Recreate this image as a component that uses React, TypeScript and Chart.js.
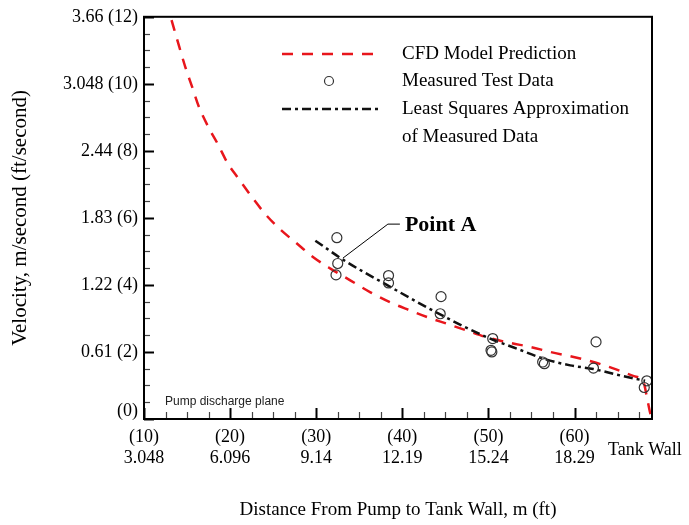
import React, { useEffect, useRef } from "react";
import { Chart, registerables } from "chart.js";

Chart.register(...registerables);

// ---- data (feet) ----
const cfdDistanceFt = [13.2, 14.1, 14.8, 15.6, 16.4, 17.5, 18.6, 19.7, 20.9, 22.6, 24.1, 25.8, 27.6, 29.7, 31.7, 34.0, 36.3, 38.6, 40.9, 42.9, 45.2, 47.5, 49.8, 52.5, 54.9, 57.2, 59.9, 62.2, 64.5, 66.9, 68.0, 68.4, 68.8, 69.0];
const cfdVelocityFt = [11.9, 11.1, 10.5, 9.9, 9.3, 8.7, 8.19, 7.64, 7.2, 6.6, 6.11, 5.66, 5.27, 4.82, 4.48, 4.13, 3.78, 3.48, 3.24, 3.04, 2.84, 2.64, 2.44, 2.27, 2.15, 2.0, 1.85, 1.7, 1.51, 1.28, 1.11, 0.66, 0.17, 0];

const measuredDistanceFt = [32.4, 32.5, 32.3, 38.4, 38.4, 44.5, 44.4, 50.5, 50.3, 50.4, 56.3, 56.5, 62.5, 62.2, 68.4, 68.1];
const measuredVelocityFt = [5.41, 4.64, 4.3, 4.28, 4.06, 3.65, 3.14, 2.4, 2.05, 2.0, 1.7, 1.65, 2.3, 1.52, 1.14, 0.94];

const lsqDistanceFt = [29.9, 33.2, 38.2, 44.4, 50.0, 53.3, 56.4, 59.5, 62.2, 65.3, 68.2];
const lsqVelocityFt = [5.32, 4.74, 4.0, 3.12, 2.42, 2.1, 1.8, 1.6, 1.49, 1.3, 1.14];

const xTickValues = [10, 20, 30, 40, 50, 60];
const xTickFeet = ["(10)", "(20)", "(30)", "(40)", "(50)", "(60)"];
const xTickMeters = ["3.048", "6.096", "9.14", "12.19", "15.24", "18.29"];
const yTickValues = [0, 2, 4, 6, 8, 10, 12];
const yTickLabels = ["(0)", "0.61 (2)", "1.22 (4)", "1.83 (6)", "2.44 (8)", "3.048 (10)", "3.66 (12)"];

const xMin = 10;
const xMax = 69;
const yMin = 0;
const yMax = 12;
const pointA = { x: 33.1, y: 4.8 };

const legendLabels = ["CFD Model Prediction", "Measured Test Data", "Least Squares Approximation", "of Measured Data"];
const xTitle = "Distance From Pump to Tank Wall, m (ft)";
const yTitle = "Velocity, m/second (ft/second)";

const SERIF = "'Liberation Serif', 'Times New Roman', serif";
const RED = "rgb(232,22,28)";

const toXY = (xs: number[], ys: number[]) => xs.map((x, i) => ({ x, y: ys[i] }));

const decorPlugin = {
  id: "decor",
  afterDatasetsDraw(chart: any) {
    const { ctx, chartArea, scales } = chart;
    const { left, right, top, bottom } = chartArea;
    const xs = scales.x;
    const ys = scales.y;
    ctx.save();
    // y ticks (inward)
    for (let v = yMin; v <= yMax + 1e-9; v += 0.5) {
      const major = Math.abs(v % 2) < 1e-9;
      const py = Math.round(ys.getPixelForValue(v)) + 0.5;
      ctx.beginPath();
      ctx.strokeStyle = major ? "#000" : "#444";
      ctx.lineWidth = major ? 2 : 1.2;
      ctx.moveTo(left, py);
      ctx.lineTo(left + (major ? 10 : 6), py);
      ctx.stroke();
    }
    // x ticks (inward)
    for (let v = xMin; v <= xMax + 1e-9; v += 2.5) {
      const major = Math.abs(v % 10) < 1e-9;
      const px = Math.round(xs.getPixelForValue(v)) + 0.5;
      ctx.beginPath();
      ctx.strokeStyle = major ? "#000" : "#444";
      ctx.lineWidth = major ? 2 : 1.2;
      ctx.moveTo(px, bottom);
      ctx.lineTo(px, bottom - (major ? 11 : 7));
      ctx.stroke();
    }
    // frame
    ctx.strokeStyle = "#000";
    ctx.lineWidth = 2;
    ctx.strokeRect(left, top, right - left, bottom - top);

    // "(0)" label sits a little above the axis in the reference
    ctx.fillStyle = "#000";
    ctx.font = "18px " + SERIF;
    ctx.textAlign = "right";
    ctx.textBaseline = "middle";
    ctx.fillText(yTickLabels[0], left - 6, ys.getPixelForValue(yTickValues[0]) - 8);

    // Pump discharge plane
    ctx.textAlign = "left";
    ctx.fillStyle = "#222";
    ctx.font = "12px 'Liberation Sans', Arial, sans-serif";
    ctx.fillText("Pump discharge plane", left + 21, bottom - 17);

    // Tank Wall
    ctx.fillStyle = "#000";
    ctx.font = "18px " + SERIF;
    ctx.fillText("Tank Wall", right - 44, bottom + 31);

    // Point A annotation
    const ax = xs.getPixelForValue(pointA.x);
    const ay = ys.getPixelForValue(pointA.y);
    ctx.beginPath();
    ctx.strokeStyle = "#000";
    ctx.lineWidth = 1;
    ctx.moveTo(ax, ay);
    ctx.lineTo(ax + 45, ay - 34);
    ctx.lineTo(ax + 57, ay - 34);
    ctx.stroke();
    ctx.font = "bold 22px " + SERIF;
    ctx.fillText("Point A", ax + 62, ay - 33);

    // legend
    const lx0 = 282;
    const lx1 = 380;
    const tx = 402;
    ctx.lineWidth = 2.5;
    ctx.strokeStyle = RED;
    ctx.setLineDash([11, 9]);
    ctx.beginPath();
    ctx.moveTo(lx0, 54);
    ctx.lineTo(lx1, 54);
    ctx.stroke();
    ctx.setLineDash([9, 4, 3, 4]);
    ctx.strokeStyle = "#111";
    ctx.beginPath();
    ctx.moveTo(lx0, 109);
    ctx.lineTo(lx1, 109);
    ctx.stroke();
    ctx.setLineDash([]);
    ctx.lineWidth = 1.2;
    ctx.strokeStyle = "#333";
    ctx.beginPath();
    ctx.arc(329, 81, 4.5, 0, Math.PI * 2);
    ctx.stroke();
    ctx.fillStyle = "#000";
    ctx.font = "19px " + SERIF;
    ctx.fillText(legendLabels[0], tx, 54);
    ctx.fillText(legendLabels[1], tx, 81);
    ctx.fillText(legendLabels[2], tx, 109);
    ctx.fillText(legendLabels[3], tx, 137);
    ctx.restore();
  },
};

export default function App() {
  const ref = useRef<HTMLCanvasElement>(null);
  useEffect(() => {
    const chart = new Chart(ref.current as HTMLCanvasElement, {
      type: "line",
      data: {
        datasets: [
          {
            type: "scatter",
            label: "Measured Test Data",
            data: toXY(measuredDistanceFt, measuredVelocityFt),
            showLine: false,
            pointStyle: "circle",
            pointRadius: 5,
            pointBorderWidth: 1.2,
            pointBorderColor: "#333",
            pointBackgroundColor: "rgba(0,0,0,0)",
            order: 0,
          },
          {
            type: "line",
            label: "Least Squares Approximation of Measured Data",
            data: toXY(lsqDistanceFt, lsqVelocityFt),
            borderColor: "#111",
            borderWidth: 2.5,
            borderDash: [9, 4, 3, 4],
            pointRadius: 0,
            cubicInterpolationMode: "monotone",
            fill: false,
            order: 1,
          },
          {
            type: "line",
            label: "CFD Model Prediction",
            data: toXY(cfdDistanceFt, cfdVelocityFt),
            borderColor: RED,
            borderWidth: 2.5,
            borderDash: [11, 9],
            pointRadius: 0,
            cubicInterpolationMode: "monotone",
            fill: false,
            order: 2,
          },
        ],
      },
      options: {
        responsive: false,
        animation: false,
        devicePixelRatio: 1,
        layout: { padding: { top: 15, right: 37, left: 0, bottom: 0 } },
        plugins: { legend: { display: false }, tooltip: { enabled: false } },
        scales: {
          x: {
            type: "linear",
            min: xMin,
            max: xMax,
            grid: { display: false, drawTicks: false },
            border: { display: false },
            afterBuildTicks: (s: any) => {
              s.ticks = xTickValues.map((v) => ({ value: v }));
            },
            afterFit: (s: any) => {
              s.height = 106;
            },
            ticks: {
              autoSkip: false,
              maxRotation: 0,
              padding: 8,
              color: "#000",
              font: { family: SERIF, size: 18, lineHeight: 1.17 },
              callback: (v: any) => {
                const i = xTickValues.indexOf(Number(v));
                return i >= 0 ? [xTickFeet[i], xTickMeters[i]] : "";
              },
            },
            title: {
              display: true,
              text: xTitle,
              color: "#000",
              font: { family: SERIF, size: 19 },
              padding: { top: 0, bottom: 4 },
            },
          },
          y: {
            type: "linear",
            min: yMin,
            max: yMax,
            grid: { display: false, drawTicks: false },
            border: { display: false },
            afterBuildTicks: (s: any) => {
              s.ticks = yTickValues.map((v) => ({ value: v }));
            },
            afterFit: (s: any) => {
              s.width = 144;
            },
            ticks: {
              autoSkip: false,
              padding: 6,
              color: "#000",
              font: { family: SERIF, size: 18 },
              callback: (v: any) => {
                const i = yTickValues.indexOf(Number(v));
                return i > 0 ? yTickLabels[i] : "";
              },
            },
            title: {
              display: true,
              text: yTitle,
              color: "#000",
              font: { family: SERIF, size: 21 },
              padding: { top: 8, bottom: 0 },
            },
          },
        },
      },
      plugins: [decorPlugin],
    } as any);
    return () => chart.destroy();
  }, []);
  return (
    <div style={{ position: "absolute", left: 0, top: 0, width: 689, height: 525, background: "#fff" }}>
      <canvas ref={ref} width={689} height={525} style={{ display: "block", width: 689, height: 525 }} />
    </div>
  );
}
